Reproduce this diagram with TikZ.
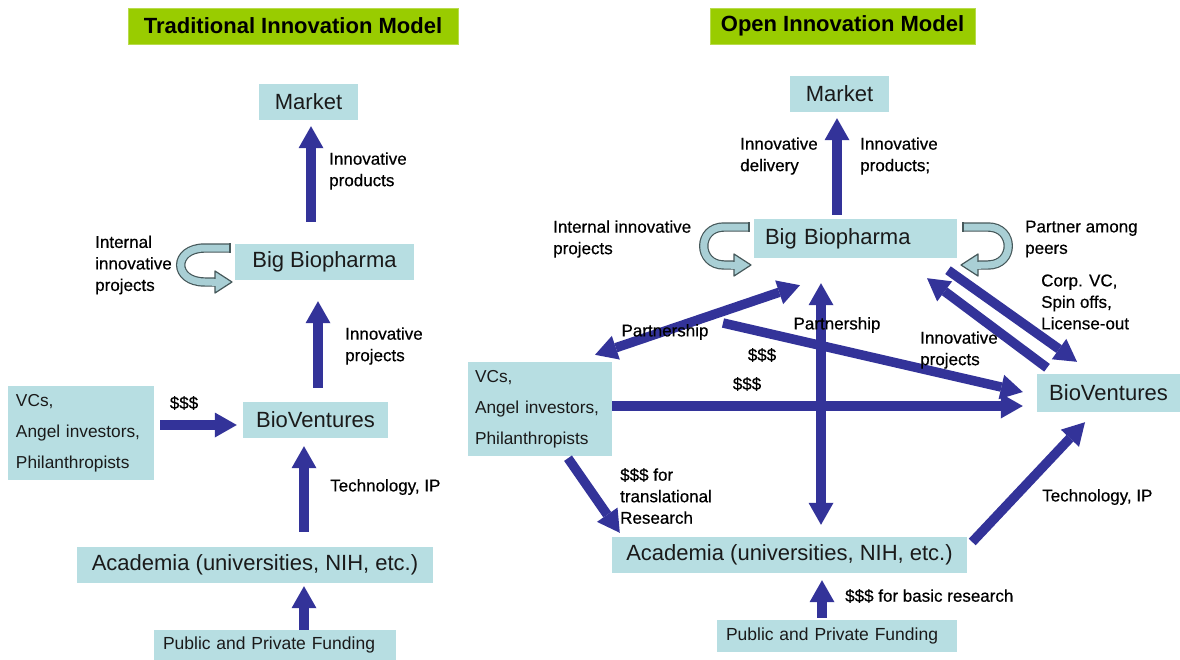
\documentclass[tikz,border=0pt]{standalone}
\usepackage{fontspec}
\setmainfont{Liberation Sans}
\newfontfamily\labelfont[FakeBold=0.5]{Liberation Sans}
\usetikzlibrary{arrows.meta}

\definecolor{boxfill}{HTML}{B7DEE2}
\definecolor{flow}{HTML}{333399}
\definecolor{titlegreen}{HTML}{99CC00}
\definecolor{loopfill}{HTML}{A9CFD5}
\definecolor{loopline}{HTML}{46585A}
\definecolor{ink}{HTML}{1A1A1A}

\tikzset{
  box/.style={fill=boxfill, draw=none, inner sep=0pt, text=ink, align=center,
    font=\fontsize{22}{26}\selectfont},
  vcbox/.style={box, align=left, minimum height=94pt,
    font=\fontsize{17.3}{31}\selectfont},
  fundbox/.style={box, align=left, inner xsep=9pt,
    font=\fontsize{17.5}{21}\selectfont},
  titlebox/.style={fill=titlegreen, draw=titlegreen!70!white, line width=0.6pt,
    inner sep=0pt, minimum height=36pt, font=\fontsize{22}{26}\selectfont\bfseries},
  lbl/.style={font=\labelfont\fontsize{17}{21.5}\selectfont, align=left, anchor=west,
    inner sep=0pt, text=black},
  flowtip/.tip={Triangle[width=25pt,length=22pt,line width=0pt]},
  flowarrow/.style={draw=flow, line width=9.5pt, -flowtip},
  flowboth/.style={draw=flow, line width=9.5pt, flowtip-flowtip},
  loopband/.style={draw=loopline, line width=1.2pt, double=loopfill, double distance=7pt},
  loophead/.style={draw=loopline, fill=loopfill, line width=1.2pt, line join=round},
}

% U-turn arrow: tail at (#1,#2), mirrored by #3, bulge control #4, height #5
\newcommand{\turnarrow}[5]{%
  \begin{scope}[shift={(#1,#2)}, xscale=#3]
    \draw[loopband] (0,0) -- (-25,0) .. controls (-#4,0) and (-#4,#5) .. (-25,#5) -- (-13,#5);
    \draw[loophead] (-15,#5-11) -- (2,#5) -- (-15,#5+11) -- cycle;
    \draw[draw=loopfill, line width=7pt] (-18,#5) -- (-14.3,#5);
    \draw[draw=loopline, line width=1.2pt] (0,-4.7) -- (0,4.7);
  \end{scope}}

\begin{document}
\begin{tikzpicture}[x=1pt, y=-1pt]
\useasboundingbox (0,0) rectangle (1180,659);

% ---------- titles ----------
\node[titlebox, minimum width=330pt] (tL) at (293,26) {Traditional Innovation Model};
\node[titlebox, minimum width=265pt] (tR) at (842.5,26) {Open Innovation Model};

% ---------- traditional model boxes ----------
\node[box, minimum width=99pt, minimum height=36pt] (mL) at (308.5,102) {Market};
\node[box, minimum width=179pt, minimum height=36pt] (bL) at (324.5,262) {Big Biopharma};
\node[box, minimum width=145pt, minimum height=36pt] (vL) at (315.5,420) {BioVentures};
\node[vcbox, text width=130pt, inner xsep=8pt] (cL) at (81,433) {VCs,\\Angel investors,\\Philanthropists};
\node[box, minimum width=356pt, minimum height=36pt] (aL) at (255,565) {Academia (universities, NIH, etc.)};
\node[fundbox, text width=224pt, minimum height=30pt] (fL) at (275,645) {Public and Private Funding};

% ---------- open model boxes ----------
\node[box, minimum width=99pt, minimum height=36pt] (mR) at (839.5,94) {Market};
\node[box, text width=181pt, inner xsep=11pt, align=left, minimum height=39pt] (bR) at (855.5,238.5) {Big Biopharma};
\node[box, minimum width=143pt, minimum height=38pt] (vR) at (1108.5,393) {BioVentures};
\node[vcbox, text width=130pt, inner xsep=7pt] (cR) at (540,409) {VCs,\\Angel investors,\\Philanthropists};
\node[box, minimum width=355pt, minimum height=36pt] (aR) at (789.5,555) {Academia (universities, NIH, etc.)};
\node[fundbox, text width=222pt, minimum height=32pt] (fR) at (837,636) {Public and Private Funding};

% ---------- U-turn arrows ----------
\turnarrow{230}{248}{1}{57.4}{34}
\turnarrow{749}{227}{1}{52}{38}
\turnarrow{963}{227}{-1}{52}{38}

% ---------- traditional model flows ----------
\draw[flowarrow] ([shift={(-13.5,-22)}]bL.north) -- ([shift={(2.5,6)}]mL.south);
\draw[flowarrow] ([shift={(2.5,-14)}]vL.north) -- ([shift={(-6.5,21)}]bL.south);
\draw[flowarrow] ([shift={(6,-8)}]cL.east) -- ([shift={(-6,5)}]vL.west);
\draw[flowarrow] ([shift={(49,-15)}]aL.north) -- ([shift={(-11.5,8)}]vL.south);
\draw[flowarrow] ([shift={(29,0)}]fL.north) -- ([shift={(49,3)}]aL.south);

% ---------- open model flows ----------
\coordinate (dealTail) at (723,323);
\draw[flowarrow] ([shift={(-18.5,-4)}]bR.north) -- ([shift={(-2.5,6)}]mR.south);
\draw[flowboth] ([shift={(55,-7)}]cR.north) -- ([shift={(-55.5,27)}]bR.south);
\draw[flowboth] ([shift={(-34.5,25)}]bR.south) -- ([shift={(31.5,-12)}]aR.north);
\draw[flowarrow] (dealTail) -- ([shift={(-14,-1)}]vR.west);
\draw[flowarrow] ([shift={(0,-3)}]cR.east) -- ([shift={(-14,13)}]vR.west);
\draw[flowarrow] ([shift={(-61.5,-6)}]vR.north) -- ([shift={(71.5,20)}]bR.south);
\draw[flowarrow] ([shift={(92.5,12)}]bR.south) -- ([shift={(-31.5,-12)}]vR.north);
\draw[flowarrow] ([shift={(28,2)}]cR.south) -- ([shift={(8,-4)}]aR.north west);
\draw[flowarrow] ([shift={(5,-13)}]aR.east) -- ([shift={(-23.5,10)}]vR.south);
\draw[flowarrow] ([shift={(-15,-2)}]fR.north) -- ([shift={(32.5,7)}]aR.south);

% ---------- traditional model labels ----------
\node[lbl] (lInnProd) at (329,171) {Innovative\\products};
\node[lbl] (lIntL) at (95,265) {Internal\\innovative\\projects};
\node[lbl] (lInnProjL) at (345,346) {Innovative\\projects};
\node[lbl, anchor=center] (lUsdL) at (184,403) {\$\$\$};
\node[lbl] (lTechL) at (330,487) {Technology, IP};

% ---------- open model labels ----------
\node[lbl] (lDel) at (740,156) {Innovative\\delivery};
\node[lbl] (lProdR) at (860,156) {Innovative\\products;};
\node[lbl] (lIntR) at (553,239) {Internal innovative\\projects};
\node[lbl] (lPeers) at (1025,239) {Partner among\\peers};
\node[lbl] (lCorp) at (1041,302) {Corp. VC,\\Spin offs,\\License-out};
\node[lbl, anchor=center] (lPartA) at (665,332) {Partnership};
\node[lbl, anchor=center] (lPartB) at (837,325) {Partnership};
\node[lbl, anchor=center] (lUsdA) at (762,355) {\$\$\$};
\node[lbl, anchor=center] (lUsdB) at (747,384) {\$\$\$};
\node[lbl] (lInnProjR) at (920,350) {Innovative\\projects};
\node[lbl] (lTrans) at (620,496) {\$\$\$ for\\translational\\Research};
\node[lbl] (lBasic) at (845,596) {\$\$\$ for basic research};
\node[lbl] (lTechR) at (1042,497) {Technology, IP};

\end{tikzpicture}
\end{document}
